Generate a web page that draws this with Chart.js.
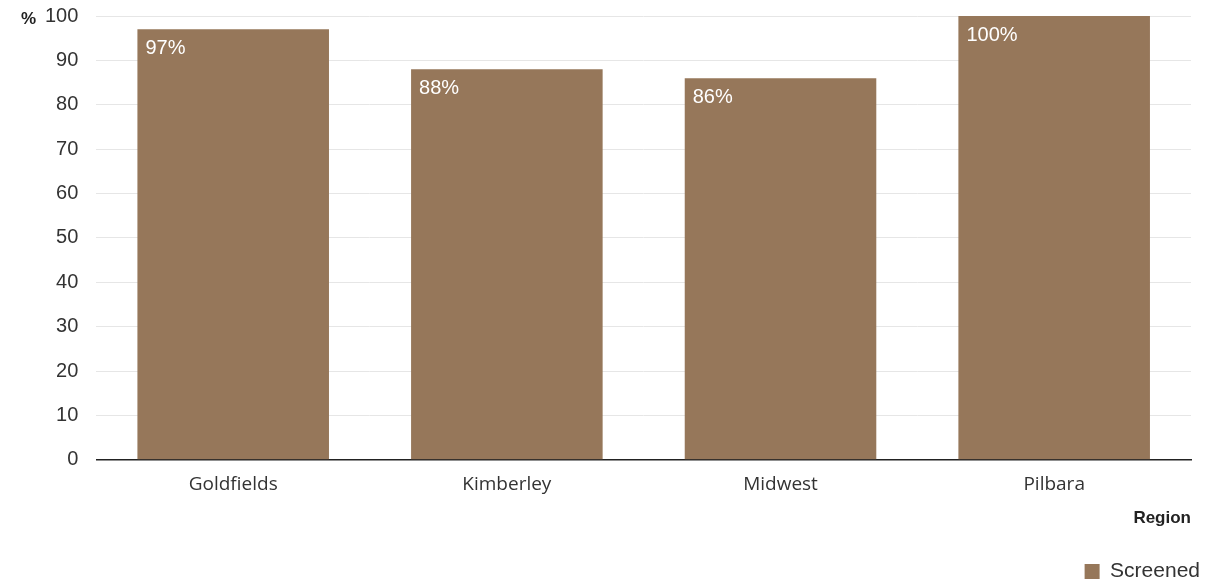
<!DOCTYPE html>
<html>
<head>
<meta charset="utf-8">
<script src="https://cdn.jsdelivr.net/npm/chart.js@4/dist/chart.umd.min.js"></script>
<style>
  html, body { margin: 0; padding: 0; background: #fff; }
  #wrap { width: 1208px; height: 582px; position: relative; }
</style>
</head>
<body>
<div id="wrap"><canvas id="screenChart"></canvas></div>
<script>
const regions = ['Goldfields', 'Kimberley', 'Midwest', 'Pilbara'];
const screened = [97, 88, 86, 100];
const yTicks = [0, 10, 20, 30, 40, 50, 60, 70, 80, 90, 100];

const barColour = '#96775a';

// white value labels in the top-left corner of each bar, plus the "%" unit
const barLabels = {
  id: 'barLabels',
  afterLayout(chart) {
    // legend sits a little further right than the plot edge
    chart.legend.left += 11;
    chart.legend.right += 11;
  },
  afterDatasetsDraw(chart) {
    const c = chart.ctx;
    const meta = chart.getDatasetMeta(0);
    c.save();
    c.font = '20px "Liberation Sans", Arial, sans-serif';
    c.fillStyle = '#ffffff';
    c.textAlign = 'left';
    c.textBaseline = 'top';
    meta.data.forEach((bar, i) => {
      c.fillText(screened[i] + '%', bar.x - bar.width / 2 + 8, bar.y + 9);
    });
    c.font = 'bold 17px "Liberation Sans", Arial, sans-serif';
    c.fillStyle = '#222';
    c.textBaseline = 'middle';
    c.fillText('%', 21, chart.scales.y.getPixelForValue(100) + 3);
    c.restore();
  }
};

const ctx = document.getElementById('screenChart').getContext('2d');
new Chart(ctx, {
  type: 'bar',
  data: {
    labels: regions,
    datasets: [{
      label: 'Screened',
      data: screened,
      backgroundColor: barColour,
      borderWidth: 0,
      barPercentage: 0.7,
      categoryPercentage: 1
    }]
  },
  options: {
    responsive: true,
    maintainAspectRatio: false,
    animation: false,
    layout: { padding: { top: 0, right: 17, left: 27, bottom: -10 } },
    scales: {
      x: {
        grid: { display: false, drawTicks: false },
        border: { display: true, color: '#222', width: 1.5 },
        ticks: {
          color: '#333',
          padding: 13,
          font: { family: '"Open Sans", sans-serif', size: 19 }
        },
        title: {
          display: true,
          text: 'Region',
          align: 'end',
          color: '#222',
          font: { family: '"Liberation Sans", Arial, sans-serif', size: 17, weight: 'bold' },
          padding: { top: 0, bottom: 30 }
        }
      },
      y: {
        min: 0,
        max: 100,
        afterFit(scale) { scale.paddingTop = 16; },
        afterBuildTicks(axis) {
          axis.ticks = yTicks.map(v => ({ value: v }));
        },
        grid: { color: '#e6e6e6', drawTicks: false },
        border: { display: false },
        ticks: {
          color: '#333',
          padding: 18,
          font: { family: '"Liberation Sans", Arial, sans-serif', size: 20 }
        }
      }
    },
    plugins: {
      legend: {
        position: 'bottom',
        align: 'end',
        labels: {
          boxWidth: 15,
          boxHeight: 15,
          padding: 2,
          color: '#333',
          font: { family: '"Liberation Sans", Arial, sans-serif', size: 21 }
        }
      },
      tooltip: { enabled: false }
    }
  },
  plugins: [barLabels]
});
</script>
</body>
</html>
